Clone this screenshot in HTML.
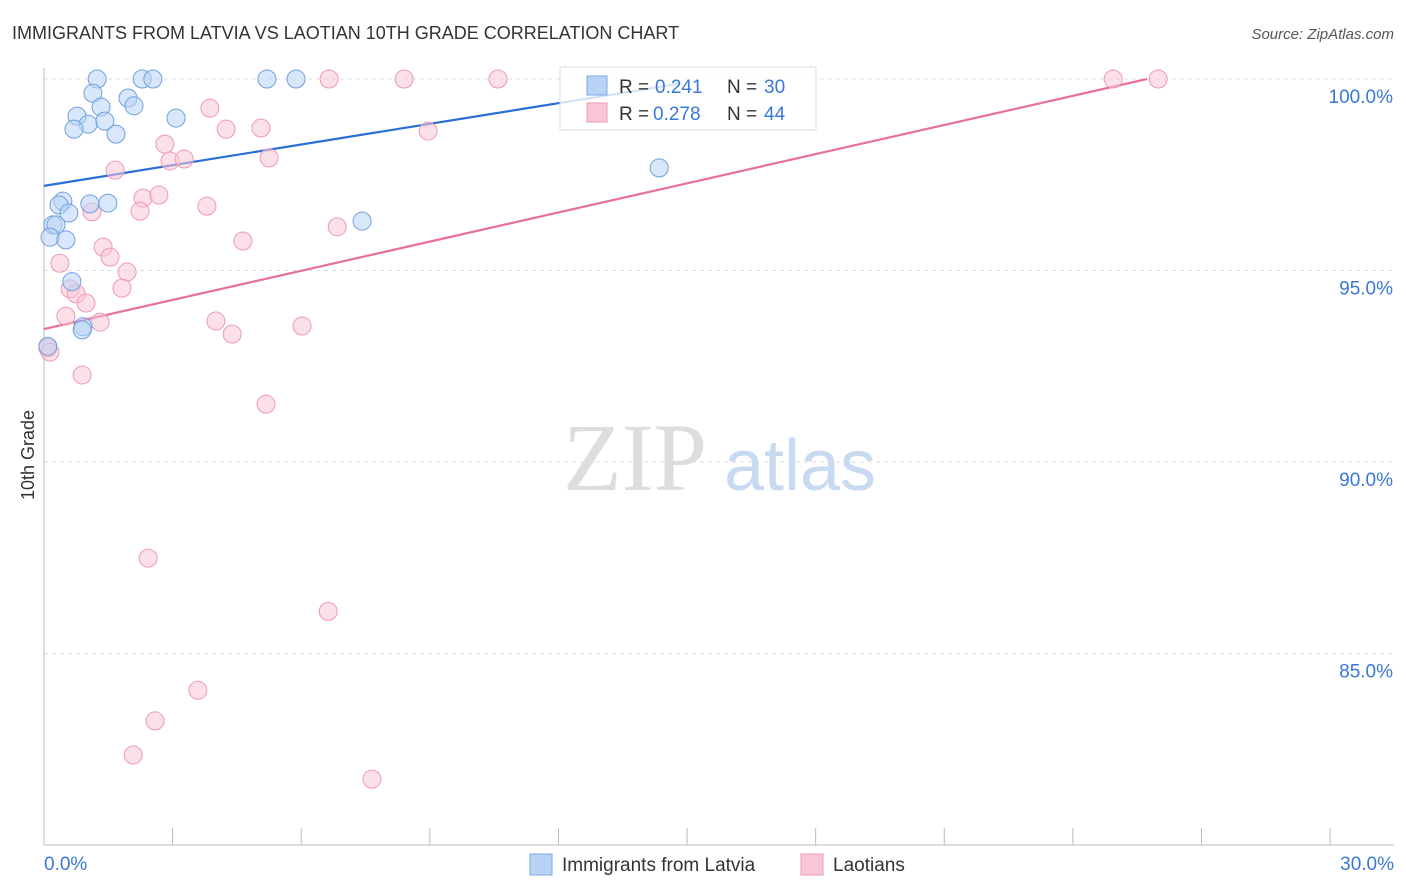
<!DOCTYPE html>
<html><head><meta charset="utf-8"><style>
body{margin:0;background:#fff;font-family:"Liberation Sans",sans-serif;}
svg{display:block}
</style></head><body>
<svg id="chart" width="1406" height="892">
<text x="12" y="39" font-size="18" fill="#333">IMMIGRANTS FROM LATVIA VS LAOTIAN 10TH GRADE CORRELATION CHART</text>
<text x="1394" y="39" font-size="15" fill="#555" font-style="italic" text-anchor="end">Source: ZipAtlas.com</text>
<text x="34" y="455" font-size="18" fill="#333" text-anchor="middle" transform="rotate(-90 34 455)">10th Grade</text>
<g><text x="635" y="490" font-size="96" fill="#ddd" font-family="Liberation Serif,serif" text-anchor="middle">ZIP</text><text x="800" y="490" font-size="72" fill="#c8daf2" text-anchor="middle">atlas</text></g>
<g id="grid"></g><g id="axes"></g><g id="trend"></g><g id="pts"></g>
<g>
<rect x="560" y="67" width="256" height="63" fill="#fff" fill-opacity="0.8" stroke="#ddd"/>
<rect x="587" y="76" width="20" height="19" fill="#b9d3f5" stroke="#7aa7e6"/>
<rect x="587" y="103" width="20" height="19" fill="#f9c6d6" stroke="#ef99b4"/>
<text x="619" y="93" font-size="19" fill="#333">R = </text><text x="655" y="93" font-size="19" fill="#3a78d6">0.241</text>
<text x="727" y="93" font-size="19" fill="#333">N = </text><text x="764" y="93" font-size="19" fill="#3a78d6">30</text>
<text x="619" y="120" font-size="19" fill="#333">R = </text><text x="653" y="120" font-size="19" fill="#3a78d6">0.278</text>
<text x="727" y="120" font-size="19" fill="#333">N = </text><text x="764" y="120" font-size="19" fill="#3a78d6">44</text>
</g>
<g>
<rect x="530" y="854" width="22" height="21" fill="#b9d3f5" stroke="#7aa7e6"/>
<text x="562" y="871" font-size="19" fill="#333">Immigrants from Latvia</text>
<rect x="801" y="854" width="22" height="21" fill="#f9c6d6" stroke="#ef99b4"/>
<text x="833" y="871" font-size="19" fill="#333">Laotians</text>
</g>
</svg>
<script>
const yTicks=[100,95,90,85];
const xTickLabels=["0.0%","30.0%"];
const latviaX=[1.24,2.29,2.54,5.2,5.88,1.14,1.96,1.33,2.1,0.77,1.03,1.42,0.7,1.68,3.08,14.35,0.44,0.35,1.07,1.49,0.58,0.21,0.28,0.14,0.51,7.42,0.65,0.91,0.89,0.09];
const latviaY=[100,100,100,100,100,99.63,99.5,99.27,99.3,99.03,98.82,98.9,98.69,98.56,98.98,97.68,96.81,96.71,96.74,96.76,96.5,96.19,96.19,95.87,95.8,96.29,94.71,93.53,93.45,93.02];
const laoX=[6.65,8.4,10.59,24.94,25.99,3.87,4.25,5.06,8.96,2.82,2.94,3.27,5.25,1.66,2.31,2.68,3.8,2.24,1.12,6.84,4.64,1.38,1.54,0.37,1.94,1.82,0.61,0.75,0.98,0.51,1.31,4.01,4.39,6.02,0.09,0.14,0.89,5.18,2.43,6.63,3.59,2.59,2.08,7.65];
const laoY=[100,100,100,100,100,99.24,98.69,98.72,98.64,98.3,97.86,97.91,97.94,97.62,96.89,96.97,96.68,96.55,96.53,96.14,95.77,95.61,95.35,95.19,94.96,94.54,94.52,94.39,94.15,93.81,93.65,93.68,93.34,93.55,92.98,92.87,92.27,91.51,87.49,86.1,84.04,83.24,82.35,81.72];
const latviaTrend=[[0,97.21],[14.84,99.88]];
const laoTrend=[[0,93.47],[25.73,100]];
const NS="http://www.w3.org/2000/svg";
const xs=v=>44+v*42.87, ys=v=>79+(100-v)*38.3;
function mk(t,a,p){const e=document.createElementNS(NS,t);for(const k in a)e.setAttribute(k,a[k]);document.getElementById(p).appendChild(e);return e;}
yTicks.forEach(t=>{
 const l=mk('line',{x1:44,x2:1394,y1:ys(t),y2:ys(t),stroke:'#ddd','stroke-dasharray':'4,4'},'grid');
 
 
 const tx=mk('text',{x:1393,y:ys(t)+24,'font-size':19,fill:'#3a78d6','text-anchor':'end'},'grid');
 tx.textContent=t.toFixed(1)+'%';
 
 
});
const yl=mk('line',{x1:44,x2:44,y1:68,y2:845,stroke:'#bbb'},'axes');


const xl=mk('line',{x1:44,x2:1394,y1:845,y2:845,stroke:'#bbb'},'axes');


for(let i=0;i<=10;i++){const t=mk('line',{x1:xs(i*3),x2:xs(i*3),y1:828,y2:845,stroke:'#bbb'},'axes');
 
 }
[[0,'start'],[30,'end']].forEach((p,i)=>{const t=mk('text',{x:i?1394:44,y:870,'font-size':19,fill:'#3a78d6','text-anchor':p[1]},'axes');t.textContent=xTickLabels[i];
 
 });
function pts(X,Y,fill,stroke,name){X.forEach((x,i)=>{const c=mk('circle',{cx:xs(x),cy:ys(Y[i]),r:9,fill:fill,stroke:stroke,'stroke-width':1,'fill-opacity':0.55},'pts');
 
 });}
pts(laoX,laoY,'#f9c6d6','#ef99b4','laotians-point');
pts(latviaX,latviaY,'#b9d3f5','#6f9fe0','latvia-point');
const t1=mk('line',{x1:xs(latviaTrend[0][0]),y1:ys(latviaTrend[0][1]),x2:xs(latviaTrend[1][0]),y2:ys(latviaTrend[1][1]),stroke:'#2a6fd6','stroke-width':2.2},'trend');


const t2=mk('line',{x1:xs(laoTrend[0][0]),y1:ys(laoTrend[0][1]),x2:xs(laoTrend[1][0]),y2:ys(laoTrend[1][1]),stroke:'#e8709a','stroke-width':2.2},'trend');


</script>
</body></html>
